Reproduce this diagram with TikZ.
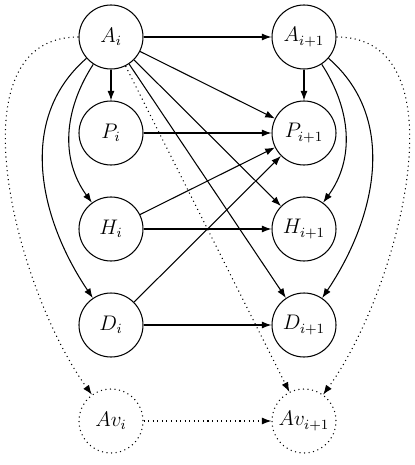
\documentclass[tikz,border=0pt]{standalone}
\usetikzlibrary{arrows.meta}
\def\dx{3.86cm}
\def\dy{1.92cm}
\tikzset{var/.style={circle,draw,minimum size=1.28cm,inner sep=0pt,font=\large},
  hidden/.style={var,dotted},
  edge/.style={-{Latex[length=5.5pt,width=4pt]}},
  soft/.style={edge,dotted}}

\begin{document}
\begin{tikzpicture}[line width=.6pt]
  \useasboundingbox (-2.22,0.74) rectangle (6.06,-8.56);
  % time slices i and i+1
  \foreach \n/\y in {A/0,P/1,H/2,D/3} {
    \node[var] (\n0) at (0,-\y*\dy) {$\n_i$};
    \node[var] (\n1) at (\dx,-\y*\dy) {$\n_{i+1}$};
  }
  \node[hidden] (Av0) at (0,-4*\dy) {$Av_i$};
  \node[hidden] (Av1) at (\dx,-4*\dy) {$Av_{i+1}$};
  % within a slice
  \draw[edge] (A0) -- (P0);
  \draw[edge] (A0) to[out=237,in=126] (H0);
  \draw[edge] (A0) to[out=221,in=124] (D0);
  \draw[edge] (A1) -- (P1);
  \draw[edge] (A1) to[out=-57,in=54] (H1);
  \draw[edge] (A1) to[out=-41,in=56] (D1);
  % from i to i+1
  \draw[edge] (A0) -- (A1);
  \draw[edge] (A0) -- (P1);
  \draw[edge] (A0) -- (H1);
  \draw[edge] (A0) -- (D1);
  \draw[edge] (P0) -- (P1);
  \draw[edge] (H0) -- (P1);
  \draw[edge] (H0) -- (H1);
  \draw[edge] (D0) -- (P1);
  \draw[edge] (D0) -- (D1);
  % availability
  \draw[soft] (A0.west) to[out=180,in=126,looseness=.92] (Av0);
  \draw[soft] (A1.east) to[out=0,in=54,looseness=.92] (Av1);
  \draw[soft] (A0) -- (Av1);
  \draw[soft] (Av0) -- (Av1);
\end{tikzpicture}
\end{document}
